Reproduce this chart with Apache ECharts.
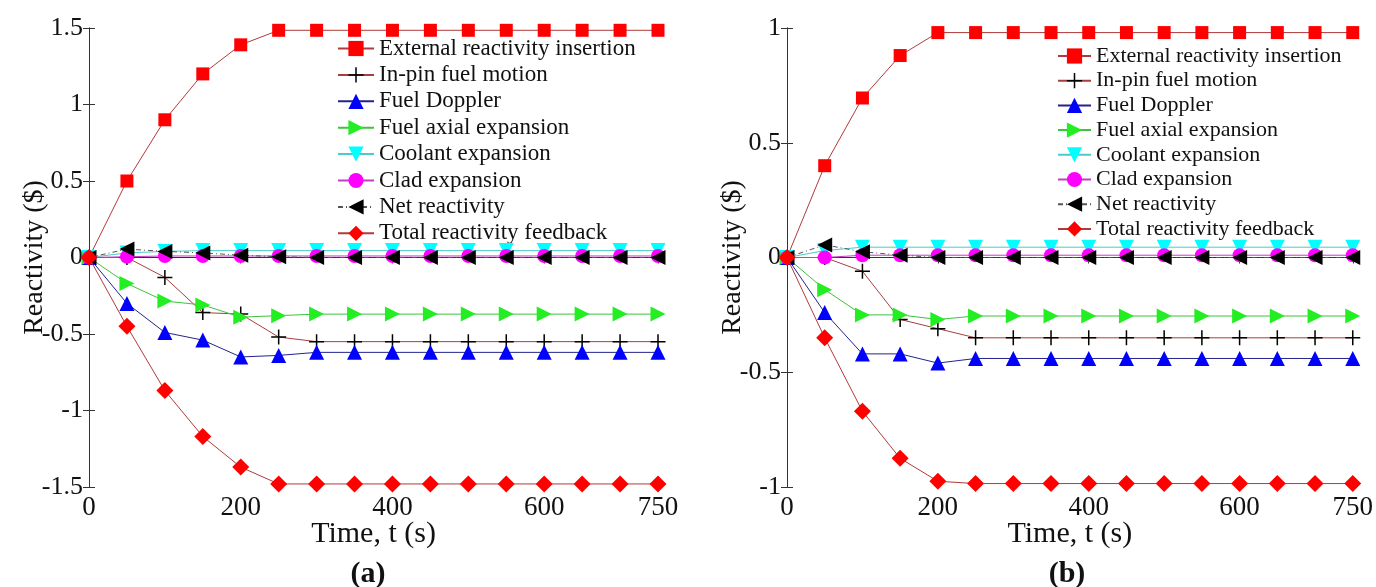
<!DOCTYPE html>
<html>
<head>
<meta charset="utf-8">
<script src="https://cdn.jsdelivr.net/npm/echarts@6/dist/echarts.min.js"></script>
<style>
  html, body { margin: 0; padding: 0; background: #fff; }
  #chart { width: 1376px; height: 587px; }
</style>
</head>
<body>
<div id="chart"></div>
<script>
// Time points (s)
const times = [0, 50, 100, 150, 200, 250, 300, 350, 400, 450, 500, 550, 600, 650, 700, 750];

const seriesNames = [
  'External reactivity insertion',
  'In-pin fuel motion',
  'Fuel Doppler',
  'Fuel axial expansion',
  'Coolant expansion',
  'Clad expansion',
  'Net reactivity',
  'Total reactivity feedback'
];

// Case (a): reactivity components ($)
const extA     = [0, 0.50, 0.90, 1.20, 1.39, 1.485, 1.485, 1.485, 1.485, 1.485, 1.485, 1.485, 1.485, 1.485, 1.485, 1.485];
const inpinA   = [0, 0.00, -0.13, -0.36, -0.37, -0.52, -0.55, -0.55, -0.55, -0.55, -0.55, -0.55, -0.55, -0.55, -0.55, -0.55];
const dopplerA = [0, -0.30, -0.49, -0.54, -0.65, -0.64, -0.62, -0.62, -0.62, -0.62, -0.62, -0.62, -0.62, -0.62, -0.62, -0.62];
const axialA   = [0, -0.17, -0.285, -0.31, -0.39, -0.38, -0.37, -0.37, -0.37, -0.37, -0.37, -0.37, -0.37, -0.37, -0.37, -0.37];
const coolantA = [0, 0.03, 0.04, 0.045, 0.045, 0.045, 0.045, 0.045, 0.045, 0.045, 0.045, 0.045, 0.045, 0.045, 0.045, 0.045];
const cladA    = [0, 0.005, 0.01, 0.01, 0.01, 0.01, 0.01, 0.01, 0.01, 0.01, 0.01, 0.01, 0.01, 0.01, 0.01, 0.01];
const netA     = [0, 0.055, 0.04, 0.03, 0.015, 0.005, 0, 0, 0, 0, 0, 0, 0, 0, 0, 0];
const totalA   = [0, -0.45, -0.87, -1.17, -1.37, -1.48, -1.48, -1.48, -1.48, -1.48, -1.48, -1.48, -1.48, -1.48, -1.48, -1.48];

// Case (b): reactivity components ($)
const extB     = [0, 0.40, 0.695, 0.88, 0.98, 0.98, 0.98, 0.98, 0.98, 0.98, 0.98, 0.98, 0.98, 0.98, 0.98, 0.98];
const inpinB   = [0, 0.00, -0.06, -0.27, -0.31, -0.35, -0.35, -0.35, -0.35, -0.35, -0.35, -0.35, -0.35, -0.35, -0.35, -0.35];
const dopplerB = [0, -0.24, -0.42, -0.42, -0.46, -0.44, -0.44, -0.44, -0.44, -0.44, -0.44, -0.44, -0.44, -0.44, -0.44, -0.44];
const axialB   = [0, -0.14, -0.25, -0.25, -0.27, -0.255, -0.255, -0.255, -0.255, -0.255, -0.255, -0.255, -0.255, -0.255, -0.255, -0.255];
const coolantB = [0, 0.03, 0.045, 0.045, 0.045, 0.045, 0.045, 0.045, 0.045, 0.045, 0.045, 0.045, 0.045, 0.045, 0.045, 0.045];
const cladB    = [0, 0.00, 0.01, 0.01, 0.01, 0.01, 0.01, 0.01, 0.01, 0.01, 0.01, 0.01, 0.01, 0.01, 0.01, 0.01];
const netB     = [0, 0.055, 0.025, 0.01, 0, 0, 0, 0, 0, 0, 0, 0, 0, 0, 0, 0];
const totalB   = [0, -0.35, -0.67, -0.875, -0.975, -0.985, -0.985, -0.985, -0.985, -0.985, -0.985, -0.985, -0.985, -0.985, -0.985, -0.985];

const panelA = [extA, inpinA, dopplerA, axialA, coolantA, cladA, netA, totalA];
const panelB = [extB, inpinB, dopplerB, axialB, coolantB, cladB, netB, totalB];

const serif = "'Liberation Serif', 'Times New Roman', serif";
const plusPath = 'path://M9,0H11V9H20V11H11V20H9V11H0V9H9Z';

// Marker / line style for each component, in legend order
const styles = [
  { symbol: 'rect',     size: 13, rot: 0,   fill: '#ff0000', line: '#b23a3a', type: 'solid' },
  { symbol: plusPath,   size: 15, rot: 0,   fill: '#000000', line: '#a4413f', type: 'solid' },
  { symbol: 'triangle', size: 15, rot: 0,   fill: '#0000ff', line: '#23238f', type: 'solid' },
  { symbol: 'triangle', size: 15, rot: -90, fill: '#22ee22', line: '#3cc43c', type: 'solid' },
  { symbol: 'triangle', size: 15, rot: 180, fill: '#00ffff', line: '#48cccc', type: 'solid' },
  { symbol: 'circle',   size: 14, rot: 0,   fill: '#ff00ff', line: '#c43cc4', type: 'solid' },
  { symbol: 'triangle', size: 15, rot: 90,  fill: '#000000', line: '#555555', type: [5, 3, 1, 3] },
  { symbol: 'diamond',  size: 17, rot: 0,   fill: '#ff0000', line: '#b23a3a', type: 'solid' }
];

function buildSeries(values, axisIdx) {
  return values.map((vals, i) => {
    const s = styles[i];
    return {
      name: seriesNames[i],
      type: 'line',
      xAxisIndex: axisIdx,
      yAxisIndex: axisIdx,
      data: times.map((t, k) => [t, vals[k]]),
      symbol: s.symbol,
      symbolSize: s.size,
      symbolRotate: s.rot,
      showAllSymbol: true,
      clip: false,
      animation: false,
      itemStyle: { color: s.fill },
      lineStyle: { color: s.line, width: 1, type: s.type },
      z: 2 + i
    };
  });
}

const axisLine = { show: true, lineStyle: { color: '#333', width: 1 } };

function bottomX(grid) {
  return {
    type: 'value', gridIndex: grid, min: 0, max: 750, interval: 200,
    axisLine: axisLine,
    axisTick: { show: true, inside: true, length: 6, lineStyle: { color: '#333' } },
    axisLabel: { fontFamily: serif, fontSize: 27, color: '#111', margin: 7 },
    splitLine: { show: false },
    name: 'Time, t (s)', nameLocation: 'middle', nameGap: 32, nameMoveOverlap: false,
    nameTextStyle: { fontFamily: serif, fontSize: 30, color: '#111' }
  };
}
function topX(grid) {
  return {
    type: 'value', gridIndex: grid, position: 'top', min: 0, max: 750, interval: 200,
    axisLine: axisLine,
    axisTick: { show: true, inside: true, length: 6, lineStyle: { color: '#333' } },
    axisLabel: { show: false }, splitLine: { show: false }
  };
}
function leftY(grid, lim) {
  return {
    type: 'value', gridIndex: grid, min: -lim, max: lim, interval: 0.5,
    axisLine: axisLine,
    axisTick: { show: true, inside: true, length: 6, lineStyle: { color: '#333' } },
    axisLabel: { fontFamily: serif, fontSize: 26, color: '#111', margin: 6 },
    splitLine: { show: false },
    name: 'Reactivity ($)', nameLocation: 'middle', nameRotate: 90, nameGap: 40, nameMoveOverlap: false,
    nameTextStyle: { fontFamily: serif, fontSize: 28, color: '#111' }
  };
}
function rightY(grid, lim) {
  return {
    type: 'value', gridIndex: grid, position: 'right', min: -lim, max: lim, interval: 0.5,
    axisLine: axisLine,
    axisTick: { show: true, inside: true, length: 6, lineStyle: { color: '#333' } },
    axisLabel: { show: false }, splitLine: { show: false }
  };
}

function legendAt(left, top, fontSize, lineHeight, gap, itemWidth) {
  return {
    orient: 'vertical', left: left, top: top, padding: 0,
    itemWidth: itemWidth, itemHeight: 19, itemGap: gap,
    selectedMode: false,
    textStyle: { fontFamily: serif, fontSize: fontSize, color: '#111', lineHeight: lineHeight },
    data: seriesNames
  };
}

const chart = echarts.init(document.getElementById('chart'), null, { renderer: 'canvas' });
chart.setOption({
  backgroundColor: '#ffffff',
  animation: false,
  grid: [
    { left: 89, right: 718, top: 28, bottom: 100 },
    { left: 787, right: 21, top: 28, bottom: 100 }
  ],
  xAxis: [bottomX(0), topX(0), bottomX(1), topX(1)],
  yAxis: [leftY(0, 1.5), rightY(0, 1.5), leftY(1, 1), rightY(1, 1)],
  legend: [
    legendAt(337, 37, 23, 20, 3.4, 36),
    legendAt(1057, 45, 22, 19, 2.7, 33)
  ],
  series: buildSeries(panelA, 0).concat(buildSeries(panelB, 2)),
  graphic: [
    { type: 'text', x: 368, y: 574, style: { text: '(a)', font: 'bold 30px ' + serif, textAlign: 'center', textVerticalAlign: 'middle', fill: '#111' } },
    { type: 'text', x: 1067, y: 574, style: { text: '(b)', font: 'bold 30px ' + serif, textAlign: 'center', textVerticalAlign: 'middle', fill: '#111' } }
  ]
});
</script>
</body>
</html>
